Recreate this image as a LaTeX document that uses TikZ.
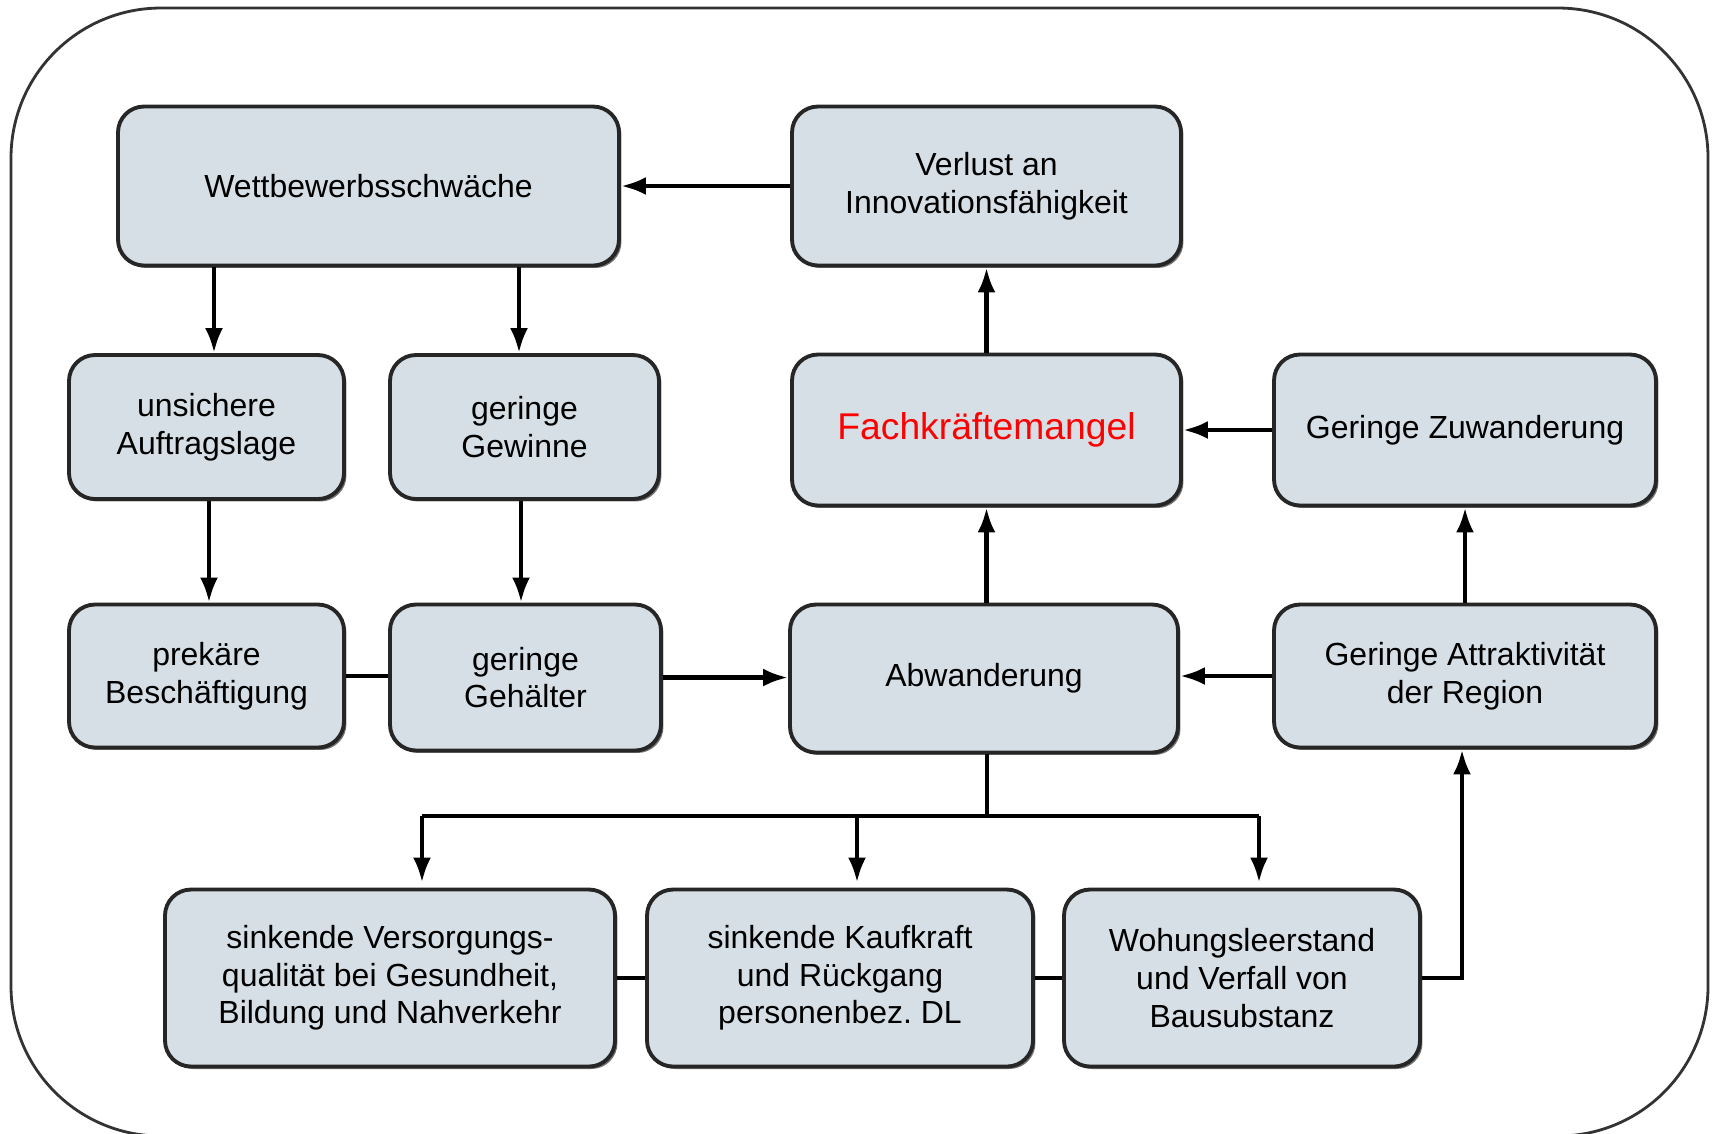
\documentclass[tikz,border=0pt]{standalone}
\usepackage{fontspec}
\setmainfont{Liberation Sans}
\usetikzlibrary{arrows.meta,shadows}

\definecolor{boxfill}{RGB}{213,223,229}

\tikzset{
    box/.style={rectangle, rounded corners=2.6mm, draw=black!85, line width=1.1pt,
        fill=boxfill, align=center, inner sep=1pt,
        font=\fontsize{9.1}{10.7}\selectfont,
        drop shadow={shadow xshift=0.7pt, shadow yshift=-0.7pt, opacity=0.55, fill=black}},
    arr/.style={line width=1.3pt, -{Latex[length=2.5mm,width=1.8mm]}},
    conn/.style={line width=1.3pt}
}

\begin{document}
\frenchspacing
\begin{tikzpicture}
\useasboundingbox (0,0) rectangle (17.13,-11.33);
% outer frame
\draw[line width=0.8pt, black!80, rounded corners=1.5cm] (0.11,-0.08) rectangle (17.08,-11.36);

% top row
\node[box, minimum width=5.01cm, minimum height=1.59cm] (wett) at (3.685,-1.86) {Wettbewerbsschwäche};
\node[box, minimum width=3.89cm, minimum height=1.59cm] (verlust) at (9.865,-1.86) {Verlust an\\Innovationsfähigkeit};

% second row
\node[box, minimum width=2.75cm, minimum height=1.44cm] (unsicher) at (2.065,-4.27) {unsichere\\Auftragslage};
\node[box, minimum width=2.69cm, minimum height=1.44cm] (gewinne) at (5.245,-4.27) {geringe\\Gewinne};
\node[box, minimum width=3.89cm, minimum height=1.51cm, text=red, font=\fontsize{10.6}{12}\selectfont] (fach) at (9.865,-4.30) {Fachkräftemangel};
\node[box, minimum width=3.82cm, minimum height=1.51cm] (zuwand) at (14.65,-4.30) {Geringe Zuwanderung};

% third row
\node[box, minimum width=2.75cm, minimum height=1.43cm] (prekaer) at (2.065,-6.76) {prekäre\\Beschäftigung};
\node[box, minimum width=2.71cm, minimum height=1.46cm] (gehaelter) at (5.255,-6.775) {geringe\\Gehälter};
\node[box, minimum width=3.88cm, minimum height=1.48cm] (abwand) at (9.84,-6.785) {Abwanderung};
\node[box, minimum width=3.82cm, minimum height=1.43cm] (attrakt) at (14.65,-6.76) {Geringe Attraktivität\\der Region};

% bottom row
\node[box, minimum width=4.5cm, minimum height=1.77cm] (versorg) at (3.9,-9.78) {sinkende Versorgungs-\\qualität bei Gesundheit,\\Bildung und Nahverkehr};
\node[box, minimum width=3.86cm, minimum height=1.77cm] (kaufkraft) at (8.4,-9.78) {sinkende Kaufkraft\\und Rückgang\\personenbez. DL};
\node[box, minimum width=3.56cm, minimum height=1.77cm] (wohnung) at (12.42,-9.78) {Wohungsleerstand\\und Verfall von\\Bausubstanz};

% connectors
\coordinate (bus) at (9.87,-8.16);
\coordinate (busL) at (4.22,-8.16);
\coordinate (busM) at (8.57,-8.16);
\coordinate (busR) at (12.59,-8.16);

\draw[arr] (verlust) -- (wett);
\draw[arr] ([xshift=0.75mm]unsicher.north |- wett.south) -- ([xshift=0.75mm]unsicher.north);
\draw[arr] ([xshift=-0.55mm]gewinne.north |- wett.south) -- ([xshift=-0.55mm]gewinne.north);
\draw[arr] ([xshift=0.25mm]unsicher.south) -- ([xshift=0.25mm]unsicher.south |- prekaer.north);
\draw[arr] ([xshift=-0.35mm]gewinne.south) -- ([xshift=-0.35mm]gewinne.south |- gehaelter.north);
\draw[conn] (prekaer.east) -- (prekaer.east -| gehaelter.west);
\draw[arr] (gehaelter.east) -- (gehaelter.east -| abwand.west);
\draw[arr] (fach |- abwand.north) -- (fach.south);
\draw[arr] (fach) -- (verlust);
\draw[arr] (zuwand) -- (fach);
\draw[arr] (attrakt.west) -- (attrakt.west -| abwand.east);
\draw[arr] (attrakt) -- (zuwand);

\draw[conn] (bus |- abwand.south) -- (bus);
\draw[conn] (busL) -- (busR);
\draw[arr] (busL) -- ([yshift=0.5mm]busL |- versorg.north);
\draw[arr] (busM) -- ([yshift=0.5mm]busM |- kaufkraft.north);
\draw[arr] (busR) -- ([yshift=0.5mm]busR |- wohnung.north);
\draw[conn] (versorg) -- (kaufkraft);
\draw[conn] (kaufkraft) -- (wohnung);
\draw[arr] (wohnung.east) -| ([xshift=-0.3mm]attrakt.south);
\end{tikzpicture}
\end{document}
